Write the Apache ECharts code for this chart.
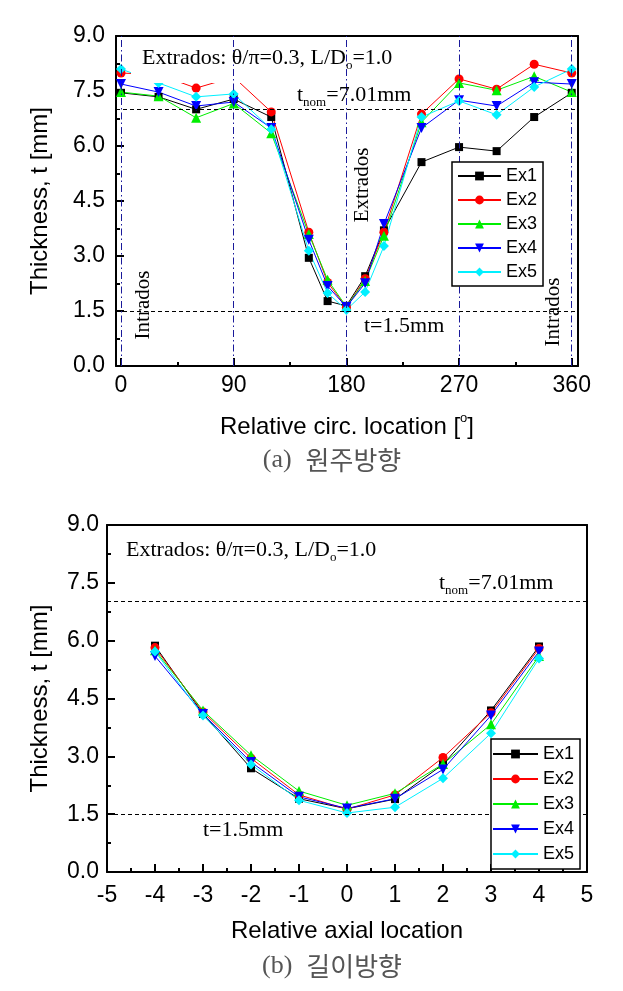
<!DOCTYPE html>
<html>
<head>
<meta charset="utf-8">
<script src="https://cdn.jsdelivr.net/npm/echarts@6/dist/echarts.min.js"></script>
<style>html,body{margin:0;padding:0;background:#fff}#c{width:623px;height:991px}</style>
</head>
<body>
<div id="c"></div>
<script>
// ---- data ----
var seriesNames = ['Ex1', 'Ex2', 'Ex3', 'Ex4', 'Ex5'];
var circX = [0, 30, 60, 90, 120, 150, 165, 180, 195, 210, 240, 270, 300, 330, 360];
var circEx1 = [7.45, 7.34, 7.00, 7.28, 6.79, 2.95, 1.77, 1.64, 2.45, 3.70, 5.56, 5.97, 5.86, 6.79, 7.45];
var circEx2 = [7.99, 7.95, 7.58, 7.88, 6.93, 3.65, 2.28, 1.60, 2.38, 3.65, 6.87, 7.83, 7.55, 8.23, 7.99];
var circEx3 = [7.47, 7.36, 6.77, 7.16, 6.35, 3.60, 2.35, 1.62, 2.32, 3.55, 6.65, 7.72, 7.52, 7.90, 7.47];
var circEx4 = [7.69, 7.47, 7.09, 7.20, 6.49, 3.44, 2.18, 1.61, 2.26, 3.87, 6.49, 7.25, 7.09, 7.74, 7.69];
var circEx5 = [8.10, 7.72, 7.34, 7.42, 6.46, 3.14, 1.99, 1.53, 2.02, 3.27, 6.79, 7.23, 6.85, 7.61, 8.10];
var axX = [-4, -3, -2, -1, 0, 1, 2, 3, 4];
var axEx1 = [5.87, 4.10, 2.69, 1.90, 1.64, 1.89, 2.79, 4.19, 5.85];
var axEx2 = [5.82, 4.15, 2.95, 2.00, 1.63, 2.00, 2.97, 4.13, 5.80];
var axEx3 = [5.75, 4.19, 3.03, 2.10, 1.73, 2.04, 2.80, 3.83, 5.60];
var axEx4 = [5.60, 4.10, 2.85, 1.95, 1.65, 1.90, 2.66, 4.06, 5.72];
var axEx5 = [5.72, 4.06, 2.79, 1.86, 1.53, 1.68, 2.43, 3.60, 5.54];
var circMajor = [0, 90, 180, 270, 360];
var circMinor = [45, 135, 225, 315];
var tNom = 7.01;
var tMin = 1.5;

// ---- style ----
var colors = ['#000000', '#ff0000', '#00ee00', '#0000ff', '#00f0ff'];
var symbols = ['rect', 'circle', 'triangle', 'triangle', 'diamond'];
var symRot = [0, 0, 0, 180, 0];
var symSize = [8, 9, 10, 10, 10];
var SANS = 'Liberation Sans';
var SERIF = 'Liberation Serif';

function zip(xs, ys) { return xs.map(function (x, i) { return [x, ys[i]]; }); }
var circData = [circEx1, circEx2, circEx3, circEx4, circEx5];
var axData = [axEx1, axEx2, axEx3, axEx4, axEx5];

var axisLine = { show: true, onZero: false, lineStyle: { color: '#000', width: 2 } };
function frameAxis(grid, pos, min, max) {
  return { type: 'value', gridIndex: grid, position: pos, min: min, max: max,
    axisLine: axisLine, axisTick: { show: false }, axisLabel: { show: false },
    splitLine: { show: false } };
}

var xAxes = [
  { type: 'value', gridIndex: 0, position: 'bottom', min: -4, max: 365,
    axisLine: axisLine,
    axisTick: { show: true, inside: true, length: 8, lineStyle: { width: 2, color: '#000' }, customValues: circMajor },
    axisLabel: { customValues: circMajor, fontSize: 23, fontFamily: SANS, color: '#000', margin: 8 },
    splitLine: { show: false },
    name: '{n|Relative circ. location [}{o|o}{n|]}', nameLocation: 'middle', nameGap: 46,
    nameTextStyle: { rich: { n: { fontSize: 24, fontFamily: SANS, color: '#000', lineHeight: 30 },
      o: { fontSize: 13, fontFamily: SANS, color: '#000', lineHeight: 14, verticalAlign: 'top' } } } },
  { type: 'value', gridIndex: 0, position: 'bottom', min: -4, max: 365,
    axisLine: { show: false },
    axisTick: { show: true, inside: true, length: 4, lineStyle: { width: 2, color: '#000' }, customValues: circMinor },
    axisLabel: { show: false }, splitLine: { show: false } },
  frameAxis(0, 'top', -4, 365),
  { type: 'value', gridIndex: 1, position: 'bottom', min: -5, max: 5, interval: 1,
    axisLine: axisLine,
    axisTick: { show: true, inside: true, length: 8, lineStyle: { width: 2, color: '#000' } },
    minorTick: { show: true, splitNumber: 2, length: 4, lineStyle: { width: 2, color: '#000' } },
    axisLabel: { fontSize: 23, fontFamily: SANS, color: '#000', margin: 12 },
    splitLine: { show: false },
    name: 'Relative axial location', nameLocation: 'middle', nameGap: 47,
    nameTextStyle: { fontSize: 24, fontFamily: SANS, color: '#000' } },
  frameAxis(1, 'top', -5, 5)
];

function yMain(grid, margin, gap) {
  return { type: 'value', gridIndex: grid, position: 'left', min: 0, max: 9, interval: 1.5,
    axisLine: axisLine,
    axisTick: { show: true, inside: true, length: 8, lineStyle: { width: 2, color: '#000' } },
    minorTick: { show: true, splitNumber: 2, length: 4, lineStyle: { width: 2, color: '#000' } },
    axisLabel: { fontSize: 23, fontFamily: SANS, color: '#000', margin: margin,
      formatter: function (v) { return v.toFixed(1); } },
    splitLine: { show: false },
    name: 'Thickness, t [mm]', nameLocation: 'middle', nameGap: gap,
    nameTextStyle: { fontSize: 24, fontFamily: SANS, color: '#000' } };
}
var yAxes = [yMain(0, 11, 64), frameAxis(0, 'right', 0, 9), yMain(1, 8, 55), frameAxis(1, 'right', 0, 9)];

var series = [];
seriesNames.forEach(function (n, i) {
  var s = { name: n, type: 'line', xAxisIndex: 0, yAxisIndex: 0, z: 2,
    data: zip(circX, circData[i]), symbol: symbols[i], symbolRotate: symRot[i], symbolSize: symSize[i],
    lineStyle: { width: 1, color: colors[i] }, itemStyle: { color: colors[i] } };
  if (i === 0) {
    var md = circMajor.map(function (v) {
      return { xAxis: v, lineStyle: { color: '#1a1a9a', width: 1, type: [7, 3, 1.5, 3] } };
    });
    md.push({ yAxis: tNom, lineStyle: { color: '#000', width: 1, type: [4, 3] } });
    md.push({ yAxis: tMin, lineStyle: { color: '#000', width: 1, type: [4, 3] } });
    s.markLine = { silent: true, symbol: 'none', z: 40, label: { show: false }, data: md, animation: false };
  }
  series.push(s);
});
seriesNames.forEach(function (n, i) {
  var s = { name: n, type: 'line', xAxisIndex: 3, yAxisIndex: 2, z: 2,
    data: zip(axX, axData[i]), symbol: symbols[i], symbolRotate: symRot[i], symbolSize: symSize[i],
    lineStyle: { width: 1, color: colors[i] }, itemStyle: { color: colors[i] } };
  if (i === 0) {
    s.markLine = { silent: true, symbol: 'none', z: 40, label: { show: false }, animation: false,
      data: [ { yAxis: tNom, lineStyle: { color: '#000', width: 1, type: [4, 3] } },
              { yAxis: tMin, lineStyle: { color: '#000', width: 1, type: [4, 3] } } ] };
  }
  series.push(s);
});

function legendCfg(left, top, w, pad, gap) {
  return { show: true, data: seriesNames, orient: 'vertical', left: left, top: top, z: 50,
    itemWidth: w, itemHeight: 11, itemGap: gap, padding: pad,
    borderColor: '#000', borderWidth: 1.5, backgroundColor: '#fff', borderRadius: 0,
    textStyle: { fontSize: 18, fontFamily: SANS, color: '#000', lineHeight: 20 }, selectedMode: false };
}

var richSerif = {
  m: { fontSize: 22, fontFamily: SERIF, fill: '#000', lineHeight: 28 },
  s: { fontSize: 13, fontFamily: SERIF, fill: '#000', lineHeight: 13, verticalAlign: 'bottom' }
};
function serifText(x, y, text, z) {
  return { type: 'text', x: x, y: y, z: z || 45, silent: true,
    style: { x: 0, y: 0, text: text, rich: richSerif, align: 'left', verticalAlign: 'middle' } };
}
function vText(x, y, text) {
  return { type: 'text', x: x, y: y, rotation: Math.PI / 2, z: 45, silent: true,
    style: { text: text, fontSize: 21, fontFamily: SERIF, fill: '#000', align: 'center', verticalAlign: 'middle' } };
}
function caption(x, y, lab, kor) {
  return { type: 'text', x: x, y: y, z: 45, silent: true,
    style: { text: '{a|' + lab + '}{g| }{k|' + kor + '}', align: 'center', verticalAlign: 'middle',
      rich: { a: { fontSize: 26, fontFamily: SERIF, fill: '#555' },
              g: { width: 14, fontSize: 10 },
              k: { fontSize: 26, fontFamily: 'Noto Sans CJK KR', fill: '#555' } } } };
}

var graphic = [
  // white background of the top-left annotation, covering the series lines below it
  { type: 'rect', z: 30, silent: true, shape: { x: 131, y: 40, width: 272, height: 43 }, style: { fill: '#fff' } },
  serifText(142, 58, '{m|Extrados: θ/π=0.3, L/D}{s|o}{m|=1.0}'),
  serifText(297, 95, '{m|t}{s|nom}{m|=7.01mm}'),
  serifText(364, 326, '{m|t=1.5mm}'),
  vText(143, 305, 'Intrados'),
  vText(362, 185, 'Extrados'),
  vText(553, 312, 'Intrados'),
  serifText(126, 550, '{m|Extrados: θ/π=0.3, L/D}{s|o}{m|=1.0}'),
  serifText(439, 583, '{m|t}{s|nom}{m|=7.01mm}'),
  serifText(203, 830, '{m|t=1.5mm}'),
  caption(332, 460, '(a)', '원주방향'),
  caption(332, 966, '(b)', '길이방향')
];

var chart = echarts.init(document.getElementById('c'), null, { renderer: 'canvas' });
chart.setOption({
  animation: false,
  backgroundColor: '#fff',
  grid: [
    { left: 116, top: 36, width: 462, height: 330, containLabel: false },
    { left: 107, top: 525, width: 480, height: 347, containLabel: false }
  ],
  xAxis: xAxes,
  yAxis: yAxes,
  legend: [legendCfg(452, 162, 43, [4, 6, 4, 5], 4), legendCfg(491, 739, 45, [5, 6, 5, 1], 5)],
  series: series,
  graphic: graphic
});
</script>
</body>
</html>
